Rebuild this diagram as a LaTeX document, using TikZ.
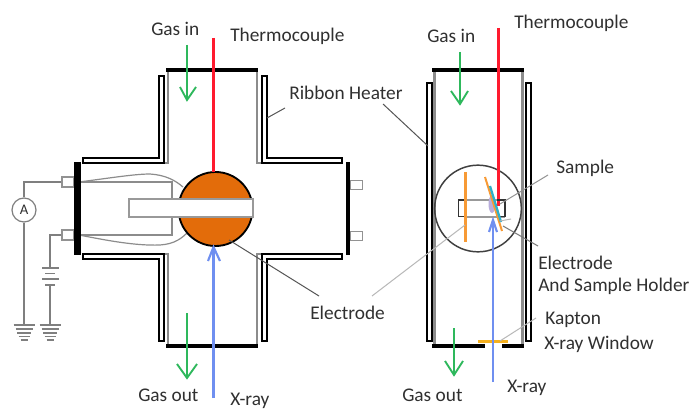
\documentclass[tikz,border=0pt]{standalone}
\usepackage{fontspec}
\setmainfont{Carlito}
\definecolor{txt}{HTML}{303030}
\definecolor{wire}{HTML}{7F7F7F}
\definecolor{lead}{HTML}{555555}
\definecolor{palelead}{HTML}{B8B8B8}
\definecolor{gasgreen}{HTML}{2EB85C}
\definecolor{rayblue}{HTML}{6F8FF0}
\definecolor{tcred}{HTML}{FF1A2E}
\definecolor{elec}{HTML}{E36C0A}
\definecolor{plate}{HTML}{F79A35}
\definecolor{kapton}{HTML}{F5B01E}
\definecolor{samp}{HTML}{2FAFC8}
\definecolor{lav}{HTML}{B9AEDC}
\tikzset{
  lbl/.style={inner sep=0pt,anchor=west,text=txt,font=\fontsize{14.5pt}{16pt}\selectfont},
  flange/.style={line width=3.6pt,black},
  heater/.style={draw=black,fill=white,line width=1.4pt,line join=miter},
  chamber/.style={draw=wire!90,line width=1.1pt},
  thick chamber/.style={draw=wire!90,line width=2.2pt},
  circuit/.style={draw=wire,line width=0.85pt},
  dim circuit/.style={draw=wire!90,line width=0.9pt},
  gas/.style={draw=gasgreen,line width=1.2pt},
  ray/.style={draw=rayblue,line width=1.6pt},
  tc/.style={draw=tcred,line width=1.6pt},
  leader/.style={draw=lead,line width=0.75pt},
  pale/.style={draw=palelead,line width=0.75pt},
  port/.style={draw=wire!85,fill=white,line width=0.9pt}
}
\begin{document}
\begin{tikzpicture}[x=0.75pt,y=-0.75pt]
\useasboundingbox[fill=white] (0,0) rectangle (692,410);

% ---------- left view ----------
\draw[chamber] (168,71) -- (168,163) -- (82,163);
\draw[chamber] (257,71) -- (257,163) -- (342,163);
\draw[chamber] (168,346) -- (168,254) -- (82,254);
\draw[chamber] (257,346) -- (257,254) -- (342,254);

% heaters
\path[heater] (159,76) -- (164,76) -- (164,163) -- (83,163) -- (83,158) -- (159,158) -- cycle;
\path[heater] (262,76) -- (267,76) -- (267,158) -- (342,158) -- (342,163) -- (262,163) -- cycle;
\path[heater] (83,254) -- (164,254) -- (164,341) -- (159,341) -- (159,259) -- (83,259) -- cycle;
\path[heater] (262,254) -- (342,254) -- (342,259) -- (267,259) -- (267,341) -- (262,341) -- cycle;

% inner wires
\draw[dim circuit] (79,182) -- (172,182) -- (172,235) -- (79,235);
\draw[dim circuit] (79,182) .. controls (110,178) and (135,174) .. (150,174) .. controls (165,175) and (175,180) .. (183,187);
\draw[dim circuit] (79,235) .. controls (105,240) and (135,246) .. (160,245) .. controls (175,244) and (182,238) .. (188,232);

% electrode
\node[circle,draw=black,fill=elec,line width=1.4pt,minimum size=55.5pt,inner sep=0pt] (ball) at (215.5,209) {};
\draw[draw=black,line width=1.0pt] (180,199) -- (252,199) (180,217) -- (252,217);
\node[draw=wire!80,fill=white,line width=0.9pt,minimum width=93pt,minimum height=13.5pt,inner sep=0pt] (bar) at (191,208) {};

% ports
\node[port,minimum width=9pt,minimum height=7.5pt,inner sep=0pt] (pa) at (68,182) {};
\node[port,minimum width=9pt,minimum height=7.5pt,inner sep=0pt] (pb) at (68,235) {};
\node[port,minimum width=9.5pt,minimum height=7pt,inner sep=0pt] (pc) at (356.5,185) {};
\node[port,minimum width=9.5pt,minimum height=7pt,inner sep=0pt] (pd) at (356.5,236) {};

% flanges
\draw[flange] (166,70) -- (258,70);
\draw[flange] (166,346) -- (258,346);
\draw[flange,line width=4.8pt] (77.3,162) -- (77.3,255);
\draw[flange,line width=2.5pt] (348,162) -- (348,255);

% ammeter
\node[circle,draw=wire,fill=white,line width=0.9pt,minimum size=18pt,inner sep=0pt,font=\fontsize{11pt}{11pt}\selectfont\rmfamily,text=txt] (amm) at (24,210) {A};
\coordinate (g1) at (24,325);
\coordinate (g2) at (50,325);
\coordinate (bt) at (50,268);
\coordinate (bb) at (50,285);
\draw[circuit] (pa.west) -| (amm.north);
\draw[circuit] (amm.south) -- (g1);
\draw[circuit] (pb.west) -| (bt);
\draw[circuit] (bb) -- (g2);
% battery
\draw[circuit] (42,268) -- (59,268) (45,273.5) -- (55,273.5) (42,279) -- (59,279) (45,285) -- (55,285);
% grounds
\foreach \c/\n in {24/a,50/b}{
  \draw[circuit] (\c-10.5,325) -- (\c+10.5,325)
     (\c-8.5,329) -- (\c+8.5,329)
     (\c-7,333) -- (\c+7,333)
     (\c-5.5,336.5) -- (\c+5.5,336.5)
     (\c-3.5,340) -- (\c+3.5,340);
}

% thermocouple, gas, x-ray
\coordinate (tca) at (213.5,38);
\draw[tc] (tca) -- (213.5,172);
\coordinate (gia) at (187,45);
\coordinate (gib) at (187,100);
\draw[gas] (gia) -- (gib);
\draw[gas,line width=1.4pt] (180,87) -- (gib) -- (196,87);
\coordinate (goa) at (187,313);
\coordinate (gob) at (187,378);
\draw[gas] (goa) -- (gob);
\draw[gas,line width=1.4pt] (177,364) -- (gob) -- (197,364);
\coordinate (xa) at (213.5,398);
\coordinate (xt) at (213.5,247);
\draw[ray] (xa) -- (xt);
\draw[ray] (208,261) -- (xt) -- (220,261);

% leaders
\coordinate (rh1) at (267,118);
\coordinate (rh2) at (285,108);
\draw[leader] (rh1) -- (rh2);
\coordinate (el1) at (229,240);
\coordinate (el2) at (319,296);
\draw[leader] (el1) -- (el2);

% ---------- right view ----------
\draw[thick chamber] (434.5,71) -- (434.5,346);
\draw[thick chamber] (522.5,71) -- (522.5,346);
\node[heater,minimum width=3.2pt,minimum height=193pt,inner sep=0pt] (hl) at (429.5,212) {};
\node[heater,minimum width=3.2pt,minimum height=193pt,inner sep=0pt] (hr) at (528.5,212) {};
\draw[flange] (432,70) -- (524,70);
\draw[flange] (432,346) -- (485,346);
\draw[flange] (502,346) -- (524,346);
\coordinate (ka) at (478,341.5);
\coordinate (kb) at (508,341.5);
\draw[draw=kapton,line width=2pt] (ka) -- (kb);

\node[circle,draw=black!75,line width=1.1pt,minimum size=65pt,inner sep=0pt] (view) at (478,208.5) {};
\coordinate (tcb) at (498.5,28);
\coordinate (tcc) at (498.5,206);
\draw[tc] (tcb) -- (tcc);
% sample holder
\draw[draw=wire!80,line width=0.8pt] (465,200) -- (505,200) (465,217) -- (505,217);
\draw[draw=black!80,line width=0.9pt] (458.5,200) rectangle (464.5,216.5);
\draw[draw=black!80,line width=0.9pt] (497,200) -- (505,200) -- (505,216.5) -- (499,216.5);
\fill[lav] (492,204) ellipse[x radius=3.5,y radius=9];
\draw[draw=plate,line width=1.6pt] (465.5,172) -- (465.5,242);
\draw[draw=plate,line width=1.5pt] (485,177) -- (502,231);
\draw[draw=samp,line width=1.7pt] (490,186) -- (501,222);
% arrows
\coordinate (ga) at (460,52);
\coordinate (gb) at (460,104);
\draw[gas] (ga) -- (gb);
\draw[gas,line width=1.4pt] (451,91) -- (gb) -- (468,91);
\coordinate (gc) at (454,328);
\coordinate (gd) at (454,375);
\draw[gas] (gc) -- (gd);
\draw[gas,line width=1.4pt] (445,361) -- (gd) -- (463,361);
\coordinate (xb) at (493,382);
\coordinate (xc) at (493,220);
\draw[ray] (xb) -- (xc);
\draw[ray] (489,232) -- (xc) -- (497,232);

% right-view leaders
\coordinate (rh3) at (383,104);
\coordinate (rh4) at (428,146);
\draw[leader] (rh3) -- (rh4);
\coordinate (sa) at (500,204);
\coordinate (sb) at (548,175);
\draw[pale,draw=palelead!80!black] (sa) -- (sb);
\coordinate (ea) at (503,226);
\coordinate (eb) at (538,246);
\draw[leader,draw=lead!80] (ea) -- (eb);
\coordinate (ec) at (500,221);
\coordinate (ed) at (511,219);
\draw[pale] (ec) -- (ed);
\coordinate (ee) at (372,296);
\coordinate (ef) at (465,225);
\draw[pale] (ee) -- (ef);
\coordinate (kc) at (500,341);
\coordinate (kd) at (536,318);
\draw[pale] (kc) -- (kd);

% ---------- labels ----------
\node[lbl] (t1) at (151,29) {Gas in};
\node[lbl] (t2) at (230,36) {Thermocouple};
\node[lbl] (t3) at (289,93) {Ribbon Heater};
\node[lbl] (t4) at (310,313) {Electrode};
\node[lbl] (t5) at (138,395) {Gas out};
\node[lbl] (t6) at (230,401) {X-ray};
\node[lbl] (t7) at (427,36) {Gas in};
\node[lbl] (t8) at (514,23) {Thermocouple};
\node[lbl] (t9) at (556,168) {Sample};
\node[lbl] (t10) at (538,263) {Electrode};
\node[lbl] (t11) at (538,286) {And Sample Holder};
\node[lbl] (t12) at (545,320) {Kapton};
\node[lbl] (t13) at (544,344) {X-ray Window};
\node[lbl] (t14) at (402,395) {Gas out};
\node[lbl] (t15) at (507,388) {X-ray};
\end{tikzpicture}
\end{document}
